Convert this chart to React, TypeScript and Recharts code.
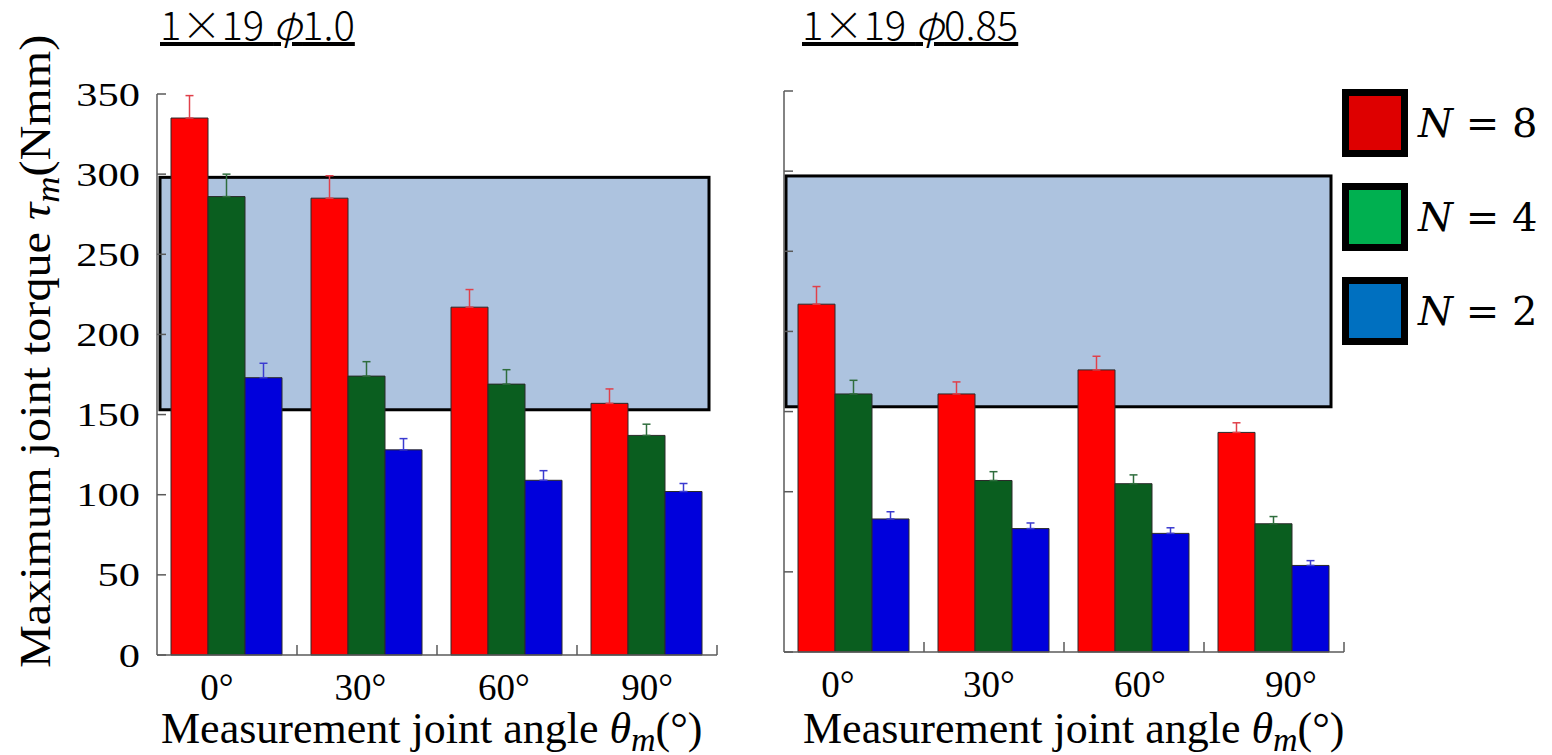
import React from 'react';
import { BarChart, Bar, XAxis, YAxis, ErrorBar, ReferenceArea, Legend } from 'recharts';

const categories = ['0°', '30°', '60°', '90°'];
const yTicks = [0, 50, 100, 150, 200, 250, 300, 350];

// Left panel: 1×19 φ1.0
const leftTitleMain = '1×19 ';
const leftTitleTail = '1.0';
const leftN8 = [335, 285, 217, 157];
const leftN8Err = [14, 14, 11, 9];
const leftN4 = [286, 174, 169, 137];
const leftN4Err = [14, 9, 9, 7];
const leftN2 = [173, 128, 109, 102];
const leftN2Err = [9, 7, 6, 5];
const leftBand = [153, 298];

// Right panel: 1×19 φ0.85
const rightTitleMain = '1×19 ';
const rightTitleTail = '0.85';
const rightN8 = [217, 161, 176, 137];
const rightN8Err = [11, 7.5, 8.5, 6];
const rightN4 = [161, 107, 105, 80];
const rightN4Err = [8.5, 5.5, 5.5, 4.5];
const rightN2 = [83, 77, 74, 54];
const rightN2Err = [4.5, 3.5, 3.5, 3];
const rightBand = [153, 297];

const seriesKeys = ['n8', 'n4', 'n2'];
const legendValues = ['8', '4', '2'];
const barColors = ['#ff0000', '#0a5e1f', '#0000dc'];
const errColors = ['#e0404a', '#2f6d3d', '#3a3ad0'];
const legendColors = ['#de0000', '#00b050', '#0070c0'];

const SERIF = '"Liberation Serif", "Times New Roman", serif';
const TITLE_FONT = '"Noto Sans CJK JP", "Noto Sans", sans-serif';
const PLOT_W = 560;
const BAND = PLOT_W / categories.length;
const AXIS_COLOR = '#5a5a5a';

function buildData(n8: number[], e8: number[], n4: number[], e4: number[], n2: number[], e2: number[]) {
  return categories.map((cat, i) => ({
    cat,
    n8: n8[i],
    n8e: [0, e8[i]],
    n4: n4[i],
    n4e: [0, e4[i]],
    n2: n2[i],
    n2e: [0, e2[i]],
  }));
}

const leftData = buildData(leftN8, leftN8Err, leftN4, leftN4Err, leftN2, leftN2Err);
const rightData = buildData(rightN8, rightN8Err, rightN4, rightN4Err, rightN2, rightN2Err);

function YTick(props: any) {
  const { x, y, payload, showLabel } = props;
  return (
    <g>
      <line x1={x} x2={x + 9} y1={y} y2={y} stroke={AXIS_COLOR} strokeWidth={1.5} />
      {showLabel ? (
        <text
          transform={`translate(${x - 17},${y + 11.5}) scale(1.25,1)`}
          textAnchor="end"
          fontFamily={SERIF}
          fontSize={34}
          fill="#000"
        >
          {payload.value}
        </text>
      ) : null}
    </g>
  );
}

function XTick(props: any) {
  const { x, y, payload, index, shiftBase, shiftStep } = props;
  const shift = shiftBase + shiftStep * index;
  return (
    <g>
      <line x1={x + BAND / 2} x2={x + BAND / 2} y1={y} y2={y - 10} stroke={AXIS_COLOR} strokeWidth={1.5} />
      <text x={x + shift} y={y + 45} textAnchor="middle" fontFamily={SERIF} fontSize={37} fill="#000">
        {payload.value}
      </text>
    </g>
  );
}

function XTitle(props: any) {
  const { viewBox, offsetX } = props;
  const x = viewBox.x + offsetX;
  const y = 743;
  return (
    <text x={x} y={y} fontFamily={SERIF} fontSize={44} fill="#000" textAnchor="start">
      <tspan>Measurement joint angle </tspan>
      <tspan fontStyle="italic">θ</tspan>
      <tspan fontStyle="italic" fontSize={34} dy={8}>m</tspan>
      <tspan dy={-8}>(°)</tspan>
    </text>
  );
}

function YTitle() {
  return (
    <text transform="translate(50,668) rotate(-90) scale(1.07,1)" fontFamily={SERIF} fontSize={45} fill="#000" textAnchor="start">
      <tspan>Maximum joint torque </tspan>
      <tspan fontStyle="italic">τ</tspan>
      <tspan fontStyle="italic" fontSize={34} dy={9}>m</tspan>
      <tspan dy={-9}>(Nmm)</tspan>
    </text>
  );
}

function makeBoxShape(insetL: number, insetR: number) {
  return (p: any) => (
    <rect
      x={p.x + insetL}
      y={p.y}
      width={p.width - insetL - insetR}
      height={p.height}
      fill="#adc3df"
      stroke="#000"
      strokeWidth={3}
    />
  );
}

function LegendContent() {
  return (
    <div style={{ width: 210 }}>
      {seriesKeys.map((k, i) => (
        <div key={k} style={{ display: 'flex', alignItems: 'center', height: 94 }}>
          <div
            style={{
              width: 52,
              height: 54,
              background: legendColors[i],
              border: '7px solid #000',
            }}
          />
          <div style={{ marginLeft: 10, fontFamily: '"DejaVu Serif", serif', fontSize: 40, color: '#000', whiteSpace: 'pre' }}>
            <span style={{ fontStyle: 'italic' }}>N</span>
            <span>{' = ' + legendValues[i]}</span>
          </div>
        </div>
      ))}
    </div>
  );
}

function Panel(props: any) {
  const {
    data, band, showYLabels, shiftBase, shiftStep, titleOffsetX, boxInsetL, boxInsetR,
    top, yAxisWidth, rightMargin, width, withLegend, withYTitle,
  } = props;
  return (
    <BarChart
      width={width}
      height={755}
      data={data}
      margin={{ top, right: rightMargin, left: 0, bottom: 0 }}
      barCategoryGap={14}
      barGap={0}
    >
      <ReferenceArea y1={band[0]} y2={band[1]} shape={makeBoxShape(boxInsetL, boxInsetR)} ifOverflow="visible" />
      <XAxis
        dataKey="cat"
        tickLine={false}
        tickSize={0}
        tickMargin={0}
        interval={0}
        height={755 - top - 561}
        axisLine={{ stroke: AXIS_COLOR, strokeWidth: 1.5 }}
        tick={(p: any) => <XTick {...p} shiftBase={shiftBase} shiftStep={shiftStep} />}
        label={{ content: (p: any) => <XTitle {...p} offsetX={titleOffsetX} /> }}
      />
      <YAxis
        type="number"
        domain={[0, 350]}
        ticks={yTicks}
        interval={0}
        width={yAxisWidth}
        tickLine={false}
        tickSize={0}
        tickMargin={0}
        axisLine={{ stroke: AXIS_COLOR, strokeWidth: 1.5 }}
        tick={(p: any) => <YTick {...p} showLabel={showYLabels} />}
        label={withYTitle ? { content: () => <YTitle /> } : undefined}
      />
      {seriesKeys.map((k, i) => (
        <Bar key={k} dataKey={k} fill={barColors[i]} stroke="#2a2a2a" strokeWidth={1} isAnimationActive={false}>
          <ErrorBar dataKey={k + 'e'} width={4} stroke={errColors[i]} strokeWidth={1.5} isAnimationActive={false} />
        </Bar>
      ))}
      {withLegend ? (
        <Legend
          layout="vertical"
          align="center"
          verticalAlign="middle"
          content={() => <LegendContent />}
          wrapperStyle={{ left: 642, top: 76, width: 210 }}
        />
      ) : null}
    </BarChart>
  );
}

function Title(props: any) {
  const { x, main, tail } = props;
  return (
    <text x={x} y={40} fontFamily={TITLE_FONT} fontWeight={300} fontSize={40} fill="#000" style={{ textDecoration: 'underline' }}>
      <tspan>{main}</tspan>
      <tspan fontStyle="italic">φ</tspan>
      <tspan>{tail}</tspan>
    </text>
  );
}

export default function App() {
  return (
    <div style={{ position: 'absolute', left: 0, top: 0, width: 1552, height: 755, background: '#fff', overflow: 'hidden' }}>
      <div style={{ position: 'absolute', left: 0, top: 0 }}>
        <Panel
          data={leftData}
          band={leftBand}
          showYLabels
          shiftBase={-10}
          shiftStep={3.4}
          titleOffsetX={4}
          boxInsetL={3}
          boxInsetR={8}
          top={94}
          yAxisWidth={157}
          rightMargin={43}
          width={760}
          withYTitle
        />
      </div>
      <div style={{ position: 'absolute', left: 700, top: 0 }}>
        <Panel
          data={rightData}
          band={rightBand}
          showYLabels={false}
          shiftBase={-16}
          shiftStep={11}
          titleOffsetX={19}
          boxInsetL={2}
          boxInsetR={13}
          top={91}
          yAxisWidth={84}
          rightMargin={208}
          width={852}
          withLegend
        />
      </div>
      <svg width={1552} height={60} style={{ position: 'absolute', left: 0, top: 0 }}>
        <Title x={160} main={leftTitleMain} tail={leftTitleTail} />
        <Title x={802} main={rightTitleMain} tail={rightTitleTail} />
      </svg>
    </div>
  );
}
